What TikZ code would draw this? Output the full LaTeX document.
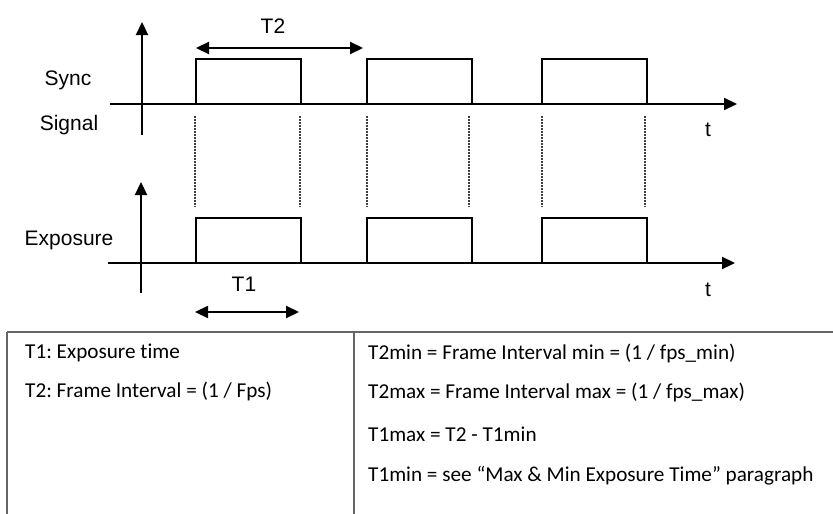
\documentclass[tikz,border=0pt]{standalone}
\usepackage{fontspec}
\setmainfont{Liberation Sans}
\newfontfamily\tabfont[Ligatures=NoCommon]{Carlito}
\usetikzlibrary{arrows.meta}
\frenchspacing
\begin{document}
\begin{tikzpicture}[x=1pt,y=-1pt,
  sig/.style={line width=2.2pt,black,line join=miter},
  axis/.style={line width=2.2pt,black,-{Triangle[length=13pt,width=12pt]}},
  dim/.style={line width=2.2pt,black,{Triangle[length=13pt,width=12pt]}-{Triangle[length=13pt,width=12pt]}},
  guide/.style={line width=1.7pt,black!75,dash pattern=on 1.6pt off 1.4pt},
  lbl/.style={font=\fontsize{21}{25}\selectfont,inner sep=0pt},
  tab/.style={font=\tabfont\fontsize{21.2}{25}\selectfont,inner sep=0pt,anchor=west},
  grid/.style={line width=1.8pt,black!60}]
\useasboundingbox (0,0) rectangle (833,514);
% axes
\coordinate (sy0) at (142,135); \coordinate (sy1) at (142,22);
\coordinate (sx0) at (110,104); \coordinate (sx1) at (737,104);
\coordinate (ey0) at (141,293); \coordinate (ey1) at (141,182);
\coordinate (ex0) at (108,263); \coordinate (ex1) at (735,263);
\draw[axis] (sy0) -- (sy1);
\draw[axis] (sx0) -- (sx1);
\draw[axis] (ey0) -- (ey1);
\draw[axis] (ex0) -- (ex1);
% pulses
\foreach \a/\b in {196/301,367/472,542/647}{
  \draw[sig] (\a,104) -- (\a,59) -- (\b,59) -- (\b,104);
  \draw[sig] (\a,263) -- (\a,218) -- (\b,218) -- (\b,263);
}
% dotted guides
\foreach \x in {195,300,367,469,542,645}{
  \draw[guide] (\x,116) -- (\x,207);
}
% dimension arrows
\coordinate (t2a) at (196,48); \coordinate (t2b) at (363,48);
\coordinate (t1a) at (195,312); \coordinate (t1b) at (299,312);
\draw[dim] (t2a) -- (t2b);
\draw[dim] (t1a) -- (t1b);
% labels
\node[lbl] (lT2) at (273,26) {T2};
\node[lbl] (lT1) at (244,284) {T1};
\node[lbl] (lSync) at (68,80) {Sync};
\node[lbl] (lSignal) at (69,125) {Signal};
\node[lbl] (lExp) at (69,240) {Exposure};
\node[lbl] (lt1) at (708,130) {t};
\node[lbl] (lt2) at (708,290) {t};
% table
\draw[grid] (7,332) -- (833,332);
\draw[grid] (7,332) -- (7,514);
\draw[grid] (354,332) -- (354,514);
\node[tab] (a1) at (25,353) {T1: Exposure time};
\node[tab] (a2) at (25,391) {T2: Frame Interval = (1 / Fps)};
\node[tab] (b1) at (368,353) {T2min = Frame Interval min = (1 / fps\_min)};
\node[tab] (b2) at (368,392) {T2max = Frame Interval max = (1 / fps\_max)};
\node[tab] (b3) at (368,434) {T1max = T2 - T1min};
\node[tab] (b4) at (368,476) {T1min = see “Max \& Min Exposure Time” paragraph};
\end{tikzpicture}
\end{document}
